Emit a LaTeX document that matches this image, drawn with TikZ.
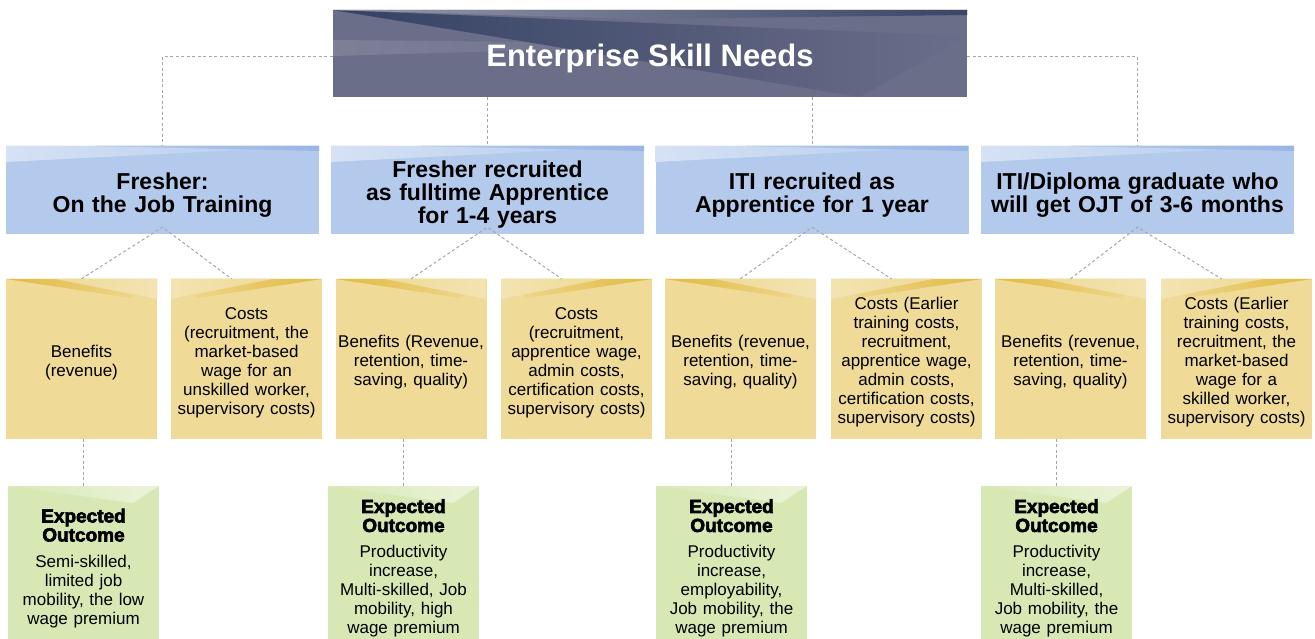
\documentclass[tikz,border=0pt]{standalone}
\usepackage{fontspec}
\setmainfont{Liberation Sans}
\newfontfamily\heavyfont{Liberation Sans}[BoldFeatures={FakeBold=3}]
\usetikzlibrary{calc}

\definecolor{topgray}{HTML}{6B6E89}
\definecolor{navy}{HTML}{10244A}
\definecolor{lblue}{HTML}{B4CAEC}
\definecolor{dblue}{HTML}{98B6E5}
\definecolor{lyellow}{HTML}{EFDA98}
\definecolor{gold}{HTML}{E2BA40}
\definecolor{lgreen}{HTML}{D8E8B5}
\definecolor{dgreen}{HTML}{BAD788}
\definecolor{linkgray}{HTML}{A6A6A6}

\newcommand{\titlefont}{\fontsize{31}{34}\selectfont\bfseries}
\newcommand{\headfont}{\fontsize{23}{23}\selectfont\bfseries}
\newcommand{\bodyfont}{\fontsize{17}{19}\selectfont}
\newcommand{\outhead}[1]{{\fontsize{19}{19}\selectfont\heavyfont\bfseries #1}}

\tikzset{
  every node/.style={align=center, inner sep=0pt},
  textdown/.style={execute at begin node={\rule{0pt}{#1}}},
  topbox/.style={fill=topgray, text=white, font=\titlefont, textdown=33pt,
    minimum width=634, minimum height=87,
    path picture={
      \coordinate (pw) at (path picture bounding box.north west);
      \coordinate (pe) at (path picture bounding box.north east);
      \fill[left color=topgray!88!white, right color=topgray] ($(pw)+(0,30)$) -- ($(pw)+(420,34)$) -- ($(pw)+(0,46)$) -- cycle;
      \fill[left color=navy!60!topgray, middle color=navy, right color=topgray] (pw) -- ($(pe)+(0,26)$) -- ($(pw)+(527,87)$) -- cycle;
      \fill[left color=topgray!70!white, right color=navy!55!topgray] (pw) -- (pe) -- ($(pe)+(0,5)$) -- ($(pw)+(300,9)$) -- cycle;
    }},
  pathbox/.style={fill=lblue, font=\headfont, text width=313, textdown=26.5pt,
    minimum width=313, minimum height=88,
    path picture={
      \coordinate (pw) at (path picture bounding box.north west);
      \coordinate (pe) at (path picture bounding box.north east);
      \fill[left color=lblue!55!white, right color=lblue] (pw) -- (pe) -- ($(pw)+(0,16)$) -- cycle;
      \fill[left color=lblue, right color=dblue] ($(pw)+(90,0)$) -- (pe) -- ($(pe)+(0,5)$) -- cycle;
    }},
  benbox/.style={fill=lyellow, font=\bodyfont, text width=151, textdown=19.5pt,
    minimum width=151, minimum height=160,
    path picture={
      \coordinate (pw) at (path picture bounding box.north west);
      \coordinate (pe) at (path picture bounding box.north east);
      \fill[left color=gold, right color=lyellow] (pw) -- (pe) -- ($(pw)+(125,19)$) -- cycle;
      \fill[left color=lyellow, right color=lyellow!75!white] ($(pw)+(50,0)$) -- (pe) -- ($(pe)+(0,20)$) -- cycle;
    }},
  costbox/.style={fill=lyellow, font=\bodyfont, text width=151, textdown=19.5pt,
    minimum width=151, minimum height=160,
    path picture={
      \coordinate (pw) at (path picture bounding box.north west);
      \coordinate (pe) at (path picture bounding box.north east);
      \fill[left color=lyellow, right color=gold] (pe) -- (pw) -- ($(pe)+(-125,19)$) -- cycle;
      \fill[left color=lyellow!75!white, right color=lyellow] ($(pe)+(-50,0)$) -- (pw) -- ($(pw)+(0,20)$) -- cycle;
    }},
  outbox/.style={fill=lgreen, font=\bodyfont, text width=151, textdown=25.5pt,
    minimum width=151, minimum height=153,
    path picture={
      \coordinate (pw) at (path picture bounding box.north west);
      \coordinate (pe) at (path picture bounding box.north east);
      \fill[left color=lgreen, middle color=dgreen, right color=lgreen!50!white] (pw) -- (pe) -- ($(pw)+(125,17)$) -- cycle;
    }},
  link/.style={draw=linkgray, line width=1pt, dash pattern=on 3pt off 2.5pt}
}

\begin{document}
\begin{tikzpicture}[x=1pt,y=-1pt]
\useasboundingbox (0,0) rectangle (1315,639);

% top
\node[topbox] (top) at (650,53.5) {Enterprise Skill Needs};

% pathways
\node[pathbox] (l1) at (162.5,190) {Fresher:\\On the Job Training};
\node[pathbox] (l2) at (487.5,190) {Fresher recruited\\as fulltime Apprentice\\for 1-4 years};
\node[pathbox] (l3) at (812,190) {ITI recruited as\\Apprentice for 1 year};
\node[pathbox] (l4) at (1137.5,190) {ITI/Diploma graduate who\\will get OJT of 3-6 months};

% benefits and costs
\node[benbox] (b1) at (81.5,359) {Benefits\\(revenue)};
\node[costbox] (c1) at (246.5,359) {Costs\\(recruitment, the\\market-based\\wage for an\\unskilled worker,\\supervisory costs)};
\node[benbox] (b2) at (411,359) {Benefits (Revenue,\\retention, time-\\saving, quality)};
\node[costbox] (c2) at (576.5,359) {Costs\\(recruitment,\\apprentice wage,\\admin costs,\\certification costs,\\supervisory costs)};
\node[benbox] (b3) at (740.5,359) {Benefits (revenue,\\retention, time-\\saving, quality)};
\node[costbox] (c3) at (906.5,359) {Costs (Earlier\\training costs,\\recruitment,\\apprentice wage,\\admin costs,\\certification costs,\\supervisory costs)};
\node[benbox] (b4) at (1070.5,359) {Benefits (revenue,\\retention, time-\\saving, quality)};
\node[costbox] (c4) at (1236.5,359) {Costs (Earlier\\training costs,\\recruitment, the\\market-based\\wage for a\\skilled worker,\\supervisory costs)};

% expected outcomes
\node[outbox] (o1) at (83.5,562.5) {\outhead{Expected}\\\outhead{Outcome}\\[7pt]Semi-skilled,\\limited job\\mobility, the low\\wage premium};
\node[outbox] (o2) at (403.5,562.5) {\outhead{Expected}\\\outhead{Outcome}\\[7pt]Productivity\\increase,\\Multi-skilled, Job\\mobility, high\\wage premium};
\node[outbox] (o3) at (731.5,562.5) {\outhead{Expected}\\\outhead{Outcome}\\[7pt]Productivity\\increase,\\employability,\\Job mobility, the\\wage premium};
\node[outbox] (o4) at (1056.5,562.5) {\outhead{Expected}\\\outhead{Outcome}\\[7pt]Productivity\\increase,\\Multi-skilled,\\Job mobility, the\\wage premium};

% connectors
\draw[link] ([yshift=-3pt]top.west) -| (l1.north);
\draw[link] ([yshift=-3pt]top.east) -| (l4.north);
\draw[link] (top.south -| l2.north) -- (l2.north);
\draw[link] (top.south -| l3.north) -- (l3.north);
\foreach \i in {1,...,4} {
  \draw[link] (b\i.north) -- ([yshift=7pt]l\i.south) -- ([xshift=-15pt]c\i.north);
  \draw[link] (o\i.north) -- (o\i.north |- b\i.south);
}
\end{tikzpicture}
\end{document}
